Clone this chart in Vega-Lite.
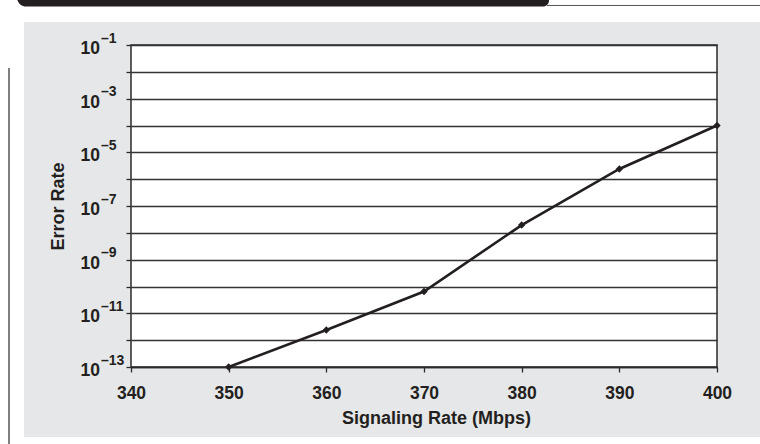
{
  "$schema": "https://vega.github.io/schema/vega-lite/v6.json",
  "width": 586,
  "height": 322,
  "autosize": {"type": "none"},
  "padding": {"left": 131, "top": 45, "right": 43, "bottom": 77},
  "background": "#e6e7e8",
  "config": {
    "font": "Liberation Sans",
    "view": {"fill": "white", "stroke": "#2b2b2b", "strokeWidth": 1.5}
  },
  "datasets": {
    "points": [
      {"rate": 350, "err": 1e-13},
      {"rate": 360, "err": 2.4e-12},
      {"rate": 370, "err": 6.5e-11},
      {"rate": 380, "err": 1.95e-8},
      {"rate": 390, "err": 2.4e-6},
      {"rate": 400, "err": 1.0e-4}
    ],
    "exps": [
      {"v": 1e-1, "e": "–1"},
      {"v": 1e-3, "e": "–3"},
      {"v": 1e-5, "e": "–5"},
      {"v": 1e-7, "e": "–7"},
      {"v": 1e-9, "e": "–9"},
      {"v": 1e-11, "e": "–11"},
      {"v": 1e-13, "e": "–13"}
    ]
  },
  "encoding": {
    "x": {
      "type": "quantitative",
      "scale": {"domain": [340, 400], "nice": false, "zero": false},
      "axis": {
        "title": "Signaling Rate (Mbps)",
        "values": [340, 350, 360, 370, 380, 390, 400],
        "grid": false,
        "domain": true,
        "domainColor": "#2b2b2b",
        "domainWidth": 1.5,
        "tickSize": 5,
        "tickColor": "#2b2b2b",
        "tickWidth": 1.3,
        "labelFont": "Liberation Sans",
        "labelFontWeight": "bold",
        "labelFontSize": 17.5,
        "labelColor": "#231f20",
        "labelBaseline": "alphabetic",
        "labelPadding": 26,
        "labelFlush": false,
        "titleFont": "Liberation Sans",
        "titleFontWeight": "bold",
        "titleFontSize": 18,
        "titleColor": "#231f20",
        "titleX": 305,
        "titleY": 56,
        "titleAlign": "center",
        "titleBaseline": "alphabetic"
      }
    },
    "y": {
      "type": "quantitative",
      "scale": {"type": "log", "domain": [1e-13, 0.1], "nice": false},
      "axis": {
        "title": "Error Rate",
        "values": [1e-13, 1e-12, 1e-11, 1e-10, 1e-9, 1e-8, 1e-7, 1e-6, 1e-5, 1e-4, 1e-3, 1e-2, 1e-1],
        "labels": false,
        "domain": false,
        "grid": true,
        "gridColor": "#333333",
        "gridWidth": 1.4,
        "tickSize": 5,
        "tickColor": "#2b2b2b",
        "tickWidth": 1.3,
        "titleFont": "Liberation Sans",
        "titleFontWeight": "bold",
        "titleFontSize": 18,
        "titleColor": "#231f20",
        "titleX": -68,
        "titleY": 161,
        "titleAngle": 270,
        "titleAlign": "center",
        "titleBaseline": "alphabetic"
      }
    }
  },
  "layer": [
    {
      "data": {"values": [{}]},
      "mark": {"type": "rect", "color": "white", "clip": false},
      "encoding": {
        "x": {"datum": 315},
        "x2": {"datum": 329.045},
        "y": {"datum": 1000},
        "y2": {"datum": 1e-18}
      }
    },
    {
      "data": {"values": [{}]},
      "mark": {"type": "rect", "color": "white", "clip": false},
      "encoding": {
        "x": {"datum": 315},
        "x2": {"datum": 415},
        "y": {"datum": 1000},
        "y2": {"datum": 0.72}
      }
    },
    {
      "data": {"values": [{}]},
      "mark": {"type": "rect", "color": "white", "clip": false},
      "encoding": {
        "x": {"datum": 315},
        "x2": {"datum": 415},
        "y": {"datum": 2.46e-16},
        "y2": {"datum": 1e-18}
      }
    },
    {
      "data": {"values": [{}]},
      "mark": {"type": "rect", "color": "#231f20", "clip": false, "cornerRadiusBottomLeft": 9, "cornerRadiusBottomRight": 6},
      "encoding": {
        "x": {"datum": 328.33},
        "x2": {"datum": 382.8},
        "y": {"datum": 100},
        "y2": {"datum": 2.72}
      }
    },
    {
      "data": {"values": [{}]},
      "mark": {"type": "rule", "color": "#555555", "strokeWidth": 1, "clip": false},
      "encoding": {
        "x": {"datum": 382.6},
        "x2": {"datum": 415},
        "y": {"datum": 2.97}
      }
    },
    {
      "data": {"values": [{}]},
      "mark": {"type": "rule", "color": "#555555", "strokeWidth": 1.5, "clip": false},
      "encoding": {
        "x": {"datum": 327.51},
        "y": {"datum": 0.0139},
        "y2": {"datum": 1e-17}
      }
    },
    {
      "data": {"name": "exps"},
      "mark": {"type": "text", "align": "right", "baseline": "alphabetic", "dx": -31, "dy": 9, "fontSize": 17.5, "fontWeight": "bold", "color": "#231f20", "clip": false},
      "encoding": {
        "x": {"datum": 340},
        "y": {"field": "v", "type": "quantitative"},
        "text": {"value": "10"}
      }
    },
    {
      "data": {"name": "exps"},
      "mark": {"type": "text", "align": "left", "baseline": "alphabetic", "dx": -30, "dy": -2.5, "fontSize": 14, "fontWeight": "bold", "color": "#231f20", "clip": false},
      "encoding": {
        "x": {"datum": 340},
        "y": {"field": "v", "type": "quantitative"},
        "text": {"field": "e"}
      }
    },
    {
      "data": {"name": "points"},
      "mark": {"type": "line", "color": "#231f20", "strokeWidth": 2.6},
      "encoding": {
        "x": {"field": "rate", "type": "quantitative"},
        "y": {"field": "err", "type": "quantitative"}
      }
    },
    {
      "data": {"name": "points"},
      "mark": {"type": "point", "shape": "diamond", "filled": true, "color": "#231f20", "size": 55, "opacity": 1},
      "encoding": {
        "x": {"field": "rate", "type": "quantitative"},
        "y": {"field": "err", "type": "quantitative"}
      }
    }
  ]
}
